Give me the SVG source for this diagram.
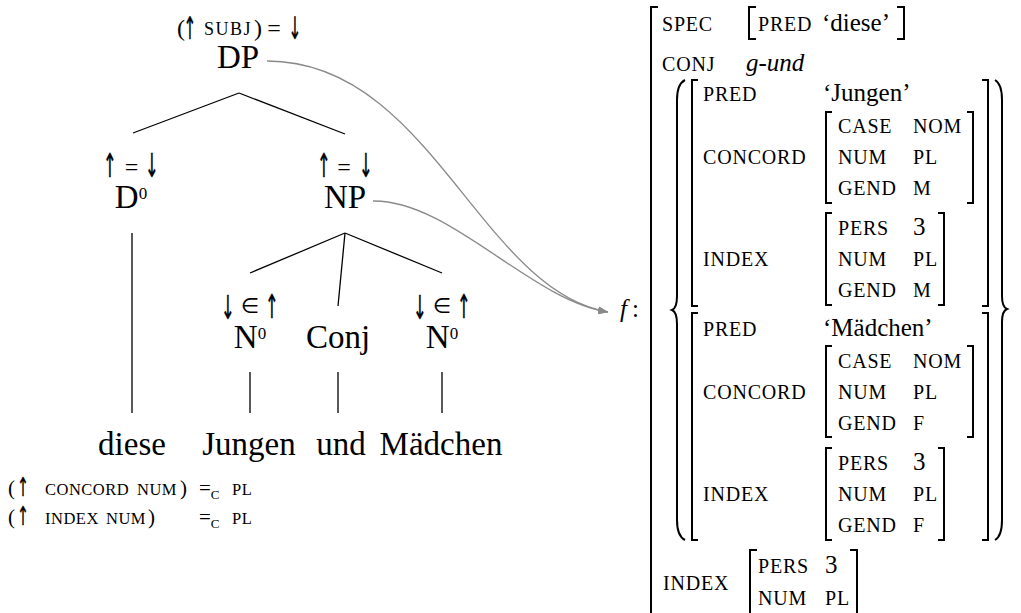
<svg xmlns="http://www.w3.org/2000/svg" width="1021" height="613" viewBox="0 0 1021 613">
<defs>
<style>
.t{font-family:"Liberation Serif","DejaVu Serif",serif;fill:#000}
.ar{font-family:"DejaVu Sans",sans-serif;fill:#000;stroke:#000;stroke-width:0.4;text-anchor:middle}
.big{font-size:33px}
.ann{font-size:24px}
.sc{font-size:20px;letter-spacing:0.8px}
.scs{font-size:16.5px;letter-spacing:0.5px}
.v{font-size:25px}
.it{font-style:italic}
.br{fill:none;stroke:#000;stroke-width:2}
.ln{stroke:#000;stroke-width:1.3;fill:none}
.conn{fill:none;stroke:#8a8a8a;stroke-width:1.3}
</style>
<marker id="arr" viewBox="0 0 10 8" refX="10" refY="4" markerWidth="10" markerHeight="8" markerUnits="userSpaceOnUse" orient="auto">
<path d="M0,0 L10,4 L0,8 Z" fill="#8a8a8a"/>
</marker>
</defs>
<rect width="1021" height="613" fill="#fff"/>

<g id="connectors">
<line class="ln" x1="239" y1="93" x2="133" y2="133"/>
<line class="ln" x1="239" y1="93" x2="345" y2="134"/>
<line class="ln" x1="132" y1="233" x2="132" y2="413"/>
<line class="ln" x1="345" y1="233" x2="250" y2="273"/>
<line class="ln" x1="345" y1="233" x2="338" y2="306"/>
<line class="ln" x1="345" y1="233" x2="442" y2="273"/>
<line class="ln" x1="250" y1="372" x2="250" y2="413"/>
<line class="ln" x1="338" y1="372" x2="338" y2="413"/>
<line class="ln" x1="442" y1="372" x2="442" y2="413"/>
<path class="conn" d="M267,61 C430,61 480,290 608,312" marker-end="url(#arr)"/>
<path class="conn" d="M373,201 C450,200 530,300 608,312" marker-end="url(#arr)"/>
</g>

<g id="node-DP">
<text class="t ann" x="177" y="36">(</text>
<text class="ar" style="font-size:31px" transform="translate(190,39) scale(0.5,1)">↑</text>
<text class="t" style="font-size:18px;letter-spacing:1.5px" x="204" y="35">SUBJ</text>
<text class="t ann" x="254" y="36">)</text>
<text class="t ann" x="274" y="36" text-anchor="middle">=</text>
<text class="ar" style="font-size:31px" transform="translate(295,39) scale(0.5,1)">↓</text>
<text class="t big" x="238" y="68" text-anchor="middle">DP</text>
</g>
<g id="node-D0">
<text class="ar" style="font-size:33px" transform="translate(110,177) scale(0.5,1)">↑</text>
<text class="t ann" x="131.5" y="175" text-anchor="middle">=</text>
<text class="ar" style="font-size:33px" transform="translate(152,177) scale(0.5,1)">↓</text>
<text class="t big" x="131" y="208" text-anchor="middle">D<tspan style="font-size:17px" dy="-9">0</tspan></text>
</g>
<g id="node-NP">
<text class="ar" style="font-size:33px" transform="translate(324,177) scale(0.5,1)">↑</text>
<text class="t ann" x="344" y="175" text-anchor="middle">=</text>
<text class="ar" style="font-size:33px" transform="translate(366,177) scale(0.5,1)">↓</text>
<text class="t big" x="345" y="208" text-anchor="middle">NP</text>
</g>
<g id="node-N0a">
<text class="ar" style="font-size:33px" transform="translate(228,319) scale(0.5,1)">↓</text>
<text class="ar" style="font-size:21px;stroke-width:0" x="250" y="313">∈</text>
<text class="ar" style="font-size:33px" transform="translate(272,318) scale(0.5,1)">↑</text>
<text class="t big" x="250" y="348" text-anchor="middle">N<tspan style="font-size:17px" dy="-9">0</tspan></text>
</g>
<g id="node-Conj">
<text class="t big" x="338" y="348" text-anchor="middle">Conj</text>
</g>
<g id="node-N0b">
<text class="ar" style="font-size:33px" transform="translate(420,319) scale(0.5,1)">↓</text>
<text class="ar" style="font-size:21px;stroke-width:0" x="442" y="313">∈</text>
<text class="ar" style="font-size:33px" transform="translate(464,318) scale(0.5,1)">↑</text>
<text class="t big" x="442" y="348" text-anchor="middle">N<tspan style="font-size:17px" dy="-9">0</tspan></text>
</g>
<g id="words">
<text class="t big" x="132" y="455" text-anchor="middle">diese</text>
<text class="t big" x="249" y="455" text-anchor="middle">Jungen</text>
<text class="t big" x="341" y="455" text-anchor="middle">und</text>
<text class="t big" x="441" y="455" text-anchor="middle">Mädchen</text>
</g>
<g id="constraints">
<text class="t" style="font-size:21px" x="8" y="495">(</text>
<text class="ar" style="font-size:26px" transform="translate(23,496) scale(0.55,1)">↑</text>
<text class="t scs" x="45" y="495">CONCORD</text>
<text class="t scs" x="137" y="495">NUM</text>
<text class="t" style="font-size:21px" x="180" y="495">)</text>
<text class="t" style="font-size:21px" x="199" y="495">=<tspan style="font-size:13px" dy="4">C</tspan></text>
<text class="t scs" x="232" y="495">PL</text>
<text class="t" style="font-size:21px" x="8" y="524">(</text>
<text class="ar" style="font-size:26px" transform="translate(23,525) scale(0.55,1)">↑</text>
<text class="t scs" x="45" y="524">INDEX</text>
<text class="t scs" x="106" y="524">NUM</text>
<text class="t" style="font-size:21px" x="148" y="524">)</text>
<text class="t" style="font-size:21px" x="199" y="524">=<tspan style="font-size:13px" dy="4">C</tspan></text>
<text class="t scs" x="232" y="524">PL</text>
</g>

<g id="fstructure">
<text class="t v it" x="620" y="317">f</text><text class="t v" x="632" y="317">:</text>
<path class="br" d="M658,7 H651 V614"/>
<text class="t sc" x="662" y="31">SPEC</text>
<path class="br" d="M756,7 H749 V39 H756"/>
<text class="t sc" x="758" y="31">PRED</text>
<text class="t v" x="822" y="31">‘diese’</text>
<path class="br" d="M897,7 H904 V39 H897"/>
<text class="t sc" x="662" y="71">CONJ</text>
<text class="t v it" x="746" y="71">g-und</text>

<path class="br" d="M685,80 Q677,84 677,100 V296 Q677,308 672,310 Q677,312 677,324 V520 Q677,536 685,540"/>
<path class="br" d="M995,80 Q1002,84 1002,100 V296 Q1002,307 1007,309 Q1002,311 1002,322 V520 Q1002,536 995,540"/>

<path class="br" d="M698,80 H692 V306 H698"/>
<path class="br" d="M982,80 H988 V306 H982"/>
<text class="t sc" x="703" y="101">PRED</text>
<text class="t v" x="823" y="101">‘Jungen’</text>
<text class="t sc" x="703" y="164">CONCORD</text>
<path class="br" d="M832,112 H826 V203 H832"/>
<path class="br" d="M967,112 H973 V203 H967"/>
<text class="t sc" x="838" y="133">CASE</text><text class="t sc" x="913" y="133">NOM</text>
<text class="t sc" x="838" y="164">NUM</text><text class="t sc" x="913" y="164">PL</text>
<text class="t sc" x="838" y="195">GEND</text><text class="t sc" x="913" y="195">M</text>
<text class="t sc" x="703" y="266">INDEX</text>
<path class="br" d="M832,213 H826 V305 H832"/>
<path class="br" d="M938,213 H944 V305 H938"/>
<text class="t sc" x="838" y="235">PERS</text><text class="t v" x="913" y="235">3</text>
<text class="t sc" x="838" y="266">NUM</text><text class="t sc" x="913" y="266">PL</text>
<text class="t sc" x="838" y="297">GEND</text><text class="t sc" x="913" y="297">M</text>

<path class="br" d="M698,313 H692 V540 H698"/>
<path class="br" d="M982,313 H988 V540 H982"/>
<text class="t sc" x="703" y="336">PRED</text>
<text class="t v" x="823" y="336">‘Mädchen’</text>
<text class="t sc" x="703" y="399">CONCORD</text>
<path class="br" d="M832,346 H826 V437 H832"/>
<path class="br" d="M967,346 H973 V437 H967"/>
<text class="t sc" x="838" y="368">CASE</text><text class="t sc" x="913" y="368">NOM</text>
<text class="t sc" x="838" y="399">NUM</text><text class="t sc" x="913" y="399">PL</text>
<text class="t sc" x="838" y="430">GEND</text><text class="t sc" x="913" y="430">F</text>
<text class="t sc" x="703" y="501">INDEX</text>
<path class="br" d="M832,448 H826 V540 H832"/>
<path class="br" d="M938,448 H944 V540 H938"/>
<text class="t sc" x="838" y="470">PERS</text><text class="t v" x="913" y="470">3</text>
<text class="t sc" x="838" y="501">NUM</text><text class="t sc" x="913" y="501">PL</text>
<text class="t sc" x="838" y="532">GEND</text><text class="t sc" x="913" y="532">F</text>

<text class="t sc" x="663" y="590">INDEX</text>
<path class="br" d="M757,550 H750 V614"/>
<path class="br" d="M850,550 H857 V614"/>
<text class="t sc" x="758" y="573">PERS</text><text class="t v" x="825" y="573">3</text>
<text class="t sc" x="758" y="605">NUM</text><text class="t sc" x="825" y="605">PL</text>
</g>
</svg>
